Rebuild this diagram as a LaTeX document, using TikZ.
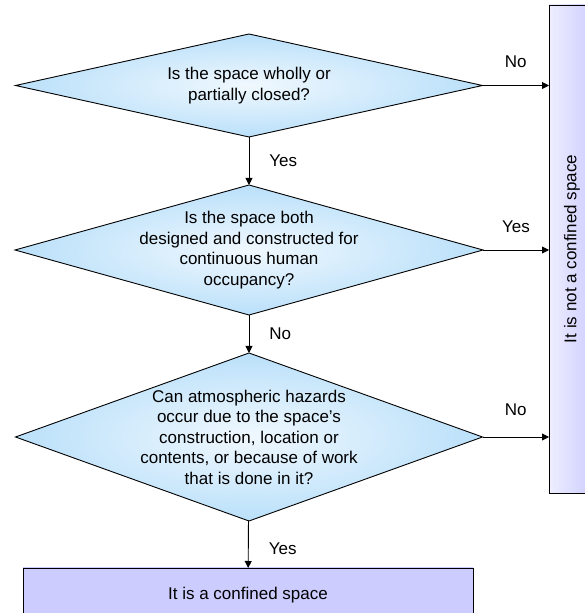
\documentclass[tikz,border=0pt]{standalone}
\usepackage{fontspec}
\setmainfont{Liberation Sans}
\usetikzlibrary{shapes.geometric,arrows.meta}

\definecolor{qblue}{RGB}{186,224,250}
\definecolor{qlight}{RGB}{240,248,254}
\definecolor{lav}{RGB}{204,204,255}
\definecolor{lavlight}{RGB}{238,238,255}

\begin{document}
\begin{tikzpicture}[x=1pt, y=1pt, font=\fontsize{17}{20.5}\selectfont,
  question/.style={diamond, draw, line width=0.9pt, inner sep=0pt, outer sep=0pt,
    inner color=qlight, outer color=qblue},
  qtext/.style={align=center, inner sep=0pt},
  answer/.style={rectangle, draw, line width=0.9pt, inner sep=0pt, outer sep=0pt},
  arrow/.style={line width=0.9pt, -{Triangle[length=7pt,width=7pt]}},
  lab/.style={inner sep=0pt}]
\useasboundingbox (0,0) rectangle (585,613);

% the three questions
\node[question, minimum width=467pt, minimum height=103pt] (q1) at (249,527.5) {};
\node[qtext] (t1) at (q1) {Is the space wholly or\\partially closed?};

\node[question, minimum width=468pt, minimum height=130pt] (q2) at (249,363) {};
\node[qtext] (t2) at (q2) {Is the space both\\designed and constructed for\\continuous human\\occupancy?};

\node[question, minimum width=467pt, minimum height=168pt] (q3) at (249,176) {};
\node[qtext] (t3) at (q3) {Can atmospheric hazards\\occur due to the space's\\construction, location or\\contents, or because of work\\that is done in it?};

% outcomes
\node[answer, minimum width=46pt, minimum height=488pt, left color=lavlight, right color=lav]
  (r) at (572,364) {\rotatebox{90}{It is not a confined space}};
\node[answer, minimum width=450pt, minimum height=55pt,
  left color=lav, middle color=lavlight, right color=lav]
  (b) at (248,17.5) {It is a confined space};

% connectors
\draw[arrow] (q1) -- node[lab, right=20pt]{Yes} (q2);
\draw[arrow] (q2) -- node[lab, right=20pt]{No} (q3);
\draw[arrow] (q3) -- node[lab, right=20pt, yshift=-4pt]{Yes} (b);

\draw[arrow] (q1.east) -- (q1.east -| r.west) node[lab, midway, above=17pt]{No};
\draw[arrow] (q2.east) -- (q2.east -| r.west) node[lab, midway, above=17pt]{Yes};
\draw[arrow] (q3.east) -- (q3.east -| r.west) node[lab, midway, above=21pt]{No};
\end{tikzpicture}
\end{document}
